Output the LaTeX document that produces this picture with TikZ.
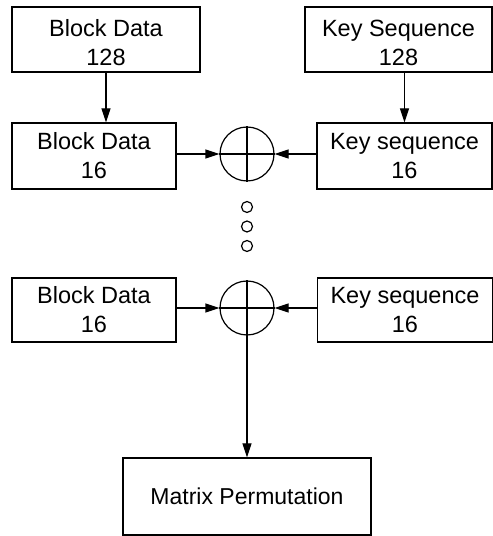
\documentclass[tikz,border=0pt]{standalone}
\usepackage{fontspec}
\setmainfont{Liberation Sans}
\usetikzlibrary{arrows.meta, positioning}

\begin{document}
\begin{tikzpicture}[x=1pt, y=1pt, line width=1.2pt,
  box/.style={draw, inner sep=0pt, align=center, font=\fontsize{23.5}{29}\selectfont},
  xorc/.style={draw, circle, minimum size=54pt, inner sep=0pt},
  dotc/.style={draw, circle, minimum size=11pt, inner sep=0pt},
  arr/.style={-{Triangle[length=14pt, width=9pt]}}]
\useasboundingbox (0,0) rectangle (493,536);
% 128-bit inputs
\node[box, minimum width=188pt, minimum height=65pt] (bd128) at (106,496.5) {\rule{0pt}{24pt}Block Data\\128};
\node[box, minimum width=187pt, minimum height=65pt] (ks128) at (398.5,496.5) {\rule{0pt}{24pt}Key Sequence\\128};
% first round
\node[box, minimum width=164pt, minimum height=66pt] (bdA) at (94,380) {Block Data\\16};
\node[box, minimum width=175pt, minimum height=66pt] (ksA) at (404.5,380) {Key sequence\\16};
\node[xorc] (xorA) at (247,382) {};
\draw (xorA.north) -- (xorA.south);
\draw (xorA.west) -- (xorA.east);
% dots
\node[dotc] (dot1) at (247,329) {};
\node[dotc] (dot2) at (247,309.5) {};
\node[dotc] (dot3) at (247,290) {};
% last round
\node[box, minimum width=164pt, minimum height=64pt] (bdB) at (94,226) {Block Data\\16};
\node[box, minimum width=175pt, minimum height=64pt] (ksB) at (405,226) {Key sequence\\16};
\node[xorc] (xorB) at (247,228) {};
\draw (xorB.north) -- (xorB.south);
\draw (xorB.west) -- (xorB.east);
% output
\node[box, minimum width=248pt, minimum height=77pt, font=\fontsize{23}{28}\selectfont] (perm) at (247,39.5) {Matrix Permutation};
% arrows
\draw[arr] (bd128.south) -- (bd128.south |- bdA.north);
\draw[arr] (ksA.north |- ks128.south) -- (ksA.north);
\draw[arr] (bdA.east |- xorA) -- (xorA.west);
\draw[arr] (ksA.west |- xorA) -- (xorA.east);
\draw[arr] (bdB.east |- xorB) -- (xorB.west);
\draw[arr] (ksB.west |- xorB) -- (xorB.east);
\draw[arr] (xorB.south) -- (perm.north);
\end{tikzpicture}
\end{document}
